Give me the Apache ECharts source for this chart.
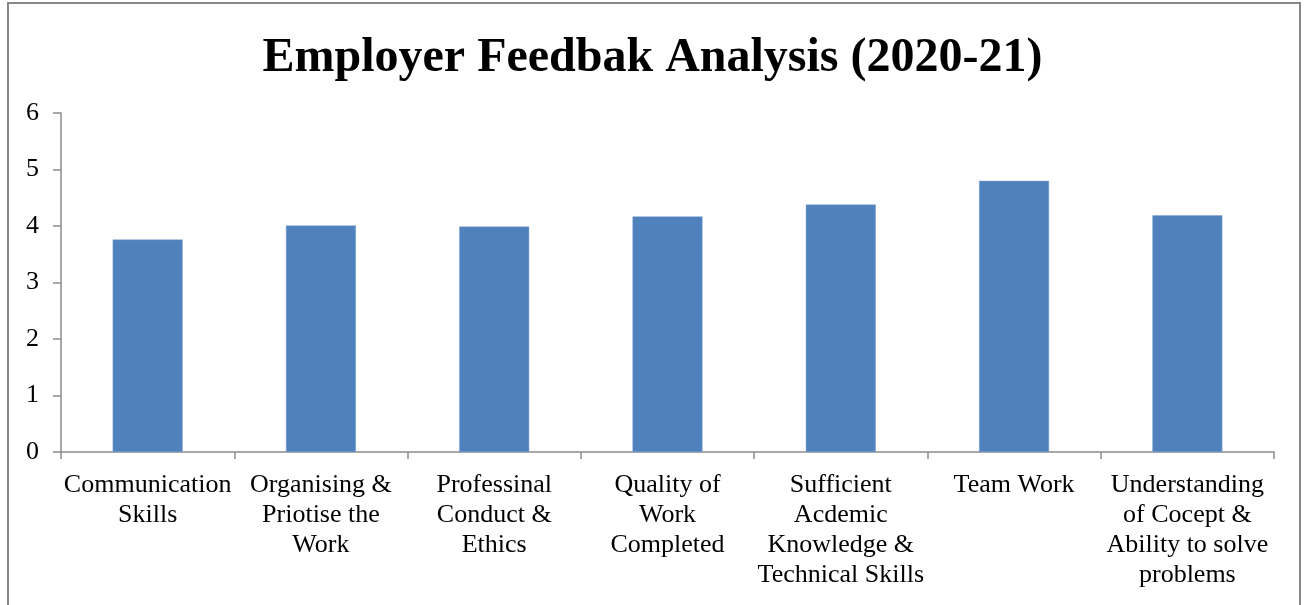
<!DOCTYPE html>
<html lang="en">

<head>
    <meta charset="UTF-8">
    <title>Employer Feedbak Analysis (2020-21)</title>
    <style type="text/css">
        html, body { margin: 0; padding: 0; background: #fff; }
        #main { width: 1305px; height: 605px; }
    </style>
</head>

<body>
    <div id="main"></div>
    <script type="text/javascript" src="https://cdn.jsdelivr.net/npm/echarts@6/dist/echarts.min.js"></script>
    <script type="text/javascript">
    // chart data
    var categories = [
        'Communication\nSkills',
        'Organising &\nPriotise the\nWork',
        'Professinal\nConduct &\nEthics',
        'Quality of\nWork\nCompleted',
        'Sufficient\nAcdemic\nKnowledge &\nTechnical Skills',
        'Team Work',
        'Understanding\nof Cocept &\nAbility to solve\nproblems'
    ];
    var scores = [3.76, 4.01, 3.99, 4.17, 4.38, 4.80, 4.19];
    var yTicks = [0, 1, 2, 3, 4, 5, 6];

    var serif = '"Liberation Serif", "Times New Roman", serif';
    var axisGray = '#8c8c8c';

    var myChart = echarts.init(document.getElementById('main'));

    var option = {
        animation: false,
        title: {
            text: 'Employer Feedbak Analysis (2020-21)',
            left: 'center',
            top: 30,
            textStyle: {
                fontFamily: serif,
                fontWeight: 'bold',
                fontSize: 48,
                color: '#000'
            }
        },
        // outer frame of the chart area
        graphic: [{
            type: 'rect',
            shape: { x: 8, y: 3, width: 1292, height: 640 },
            style: { fill: 'none', stroke: '#878787', lineWidth: 2 },
            silent: true
        }],
        grid: {
            left: 61,
            right: 31,
            top: 113,
            bottom: 153
        },
        xAxis: {
            type: 'category',
            data: categories,
            boundaryGap: true,
            axisLine: { lineStyle: { color: axisGray, width: 1.5 } },
            axisTick: { show: true, length: 7, lineStyle: { color: axisGray, width: 1.5 } },
            axisLabel: {
                interval: 0,
                margin: 18,
                fontFamily: serif,
                fontSize: 26,
                lineHeight: 30,
                color: '#000'
            }
        },
        yAxis: {
            type: 'value',
            min: yTicks[0],
            max: yTicks[yTicks.length - 1],
            interval: 1,
            splitLine: { show: false },
            axisLine: { show: true, lineStyle: { color: axisGray, width: 1.5 } },
            axisTick: { show: true, length: 8, lineStyle: { color: axisGray, width: 1.5 } },
            axisLabel: {
                margin: 22,
                fontFamily: serif,
                fontSize: 26,
                color: '#000'
            }
        },
        series: [{
            name: 'Score',
            type: 'bar',
            data: scores,
            barWidth: 70,
            itemStyle: {
                color: '#4F81BD',
                borderColor: '#7FA3D0',
                borderWidth: 0.5
            }
        }]
    };

    myChart.setOption(option);
    </script>
</body>

</html>
